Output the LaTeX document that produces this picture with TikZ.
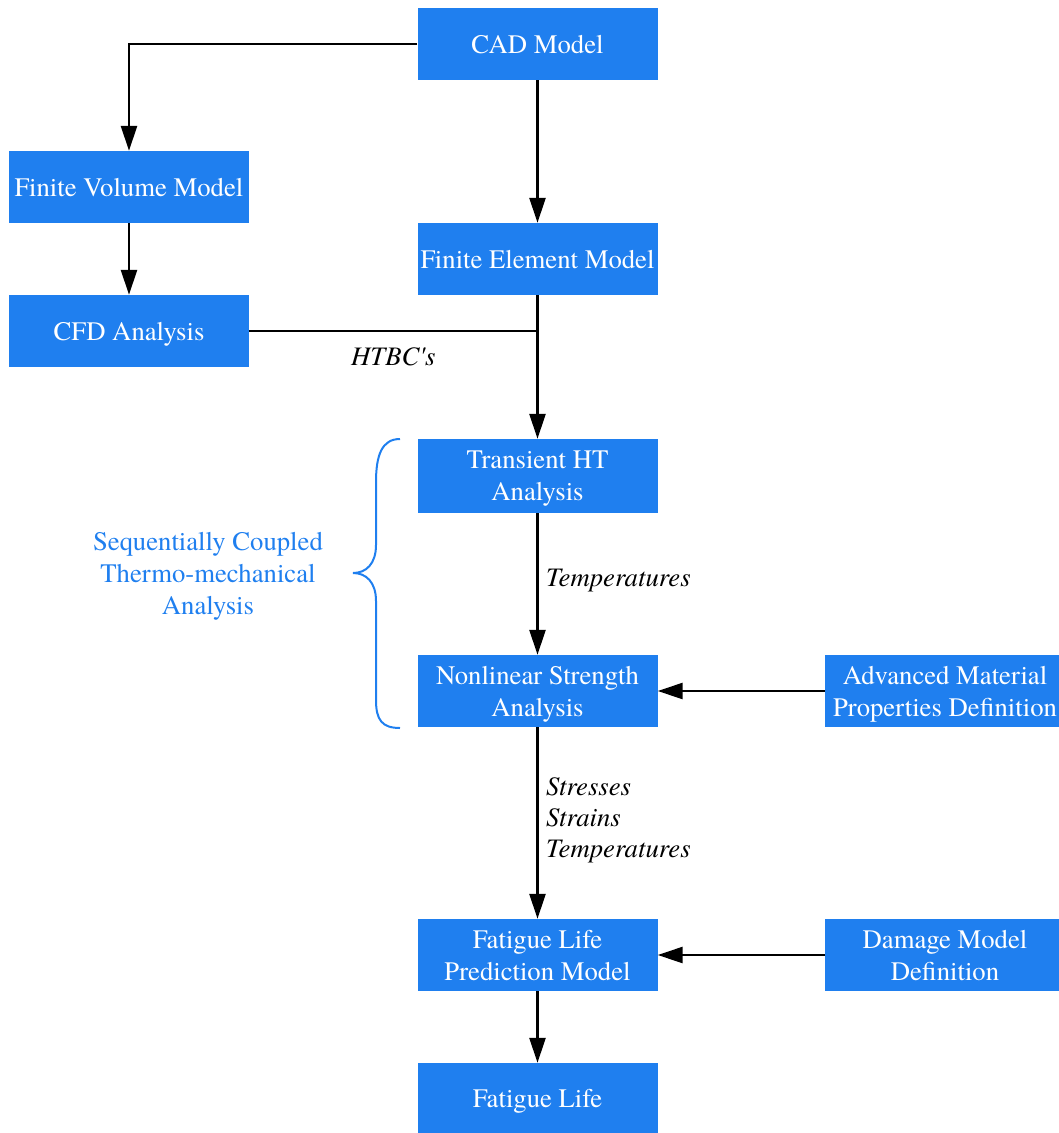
\documentclass[tikz,border=0pt]{standalone}
\usepackage{fontspec}
\setmainfont{texgyretermes}[Extension=.otf, UprightFont=*-regular, ItalicFont=*-italic, BoldFont=*-bold, BoldItalicFont=*-bolditalic]
\usetikzlibrary{arrows.meta}
\definecolor{boxblue}{HTML}{1F7FEF}
\begin{document}
\begin{tikzpicture}[x=1pt,y=-1pt,
  every node/.style={font=\fontsize{26.7}{32}\selectfont},
  blk/.style={rectangle, fill=boxblue, text=white, align=center, inner sep=0pt, text depth=-1pt, minimum width=240pt, minimum height=72pt},
  conn/.style={line width=2.5pt, draw=black},
  arr/.style={conn, -{Triangle[length=25pt,width=16pt]}},
  lbl/.style={font=\fontsize{26.7}{31}\selectfont\itshape, align=left, inner sep=0pt}
]
\useasboundingbox (0,0) rectangle (1059,1133);
\node[blk] (cad) at (537.5,44) {CAD Model};
\node[blk] (fvm) at (129,187) {Finite Volume Model};
\node[blk] (fem) at (537.5,259) {Finite Element Model};
\node[blk] (cfd) at (129,331) {CFD Analysis};
\node[blk, minimum height=74pt] (tht) at (537.5,476) {Transient HT\\Analysis};
\node[blk] (nsa) at (537.5,691) {Nonlinear Strength\\Analysis};
\node[blk] (amp) at (945,691) {Advanced Material\\Properties Definition};
\node[blk] (flp) at (537.5,955) {Fatigue Life\\Prediction Model};
\node[blk] (dmd) at (945,955) {Damage Model\\Definition};
\node[blk, minimum height=70pt] (fl) at (537.5,1098) {Fatigue Life};

\draw[arr] (cad.west) -| (fvm.north);
\draw[arr] (cad.south) -- (fem.north);
\draw[arr] (fvm.south) -- (cfd.north);
\draw[arr] (fem.south) -- (tht.north);
\coordinate (join) at (fem.south |- cfd.east);
\draw[conn] (cfd.east) -- (join);
\node[lbl, anchor=base west] (htbc) at (351,365) {HTBC\textquotesingle s};
\draw[arr] (tht.south) -- (nsa.north);
\node[lbl, anchor=base west] (temp) at (546,586) {Temperatures};
\draw[arr] (nsa.south) -- (flp.north);
\node[lbl, anchor=base west] (s1) at (546,795) {Stresses};
\node[lbl, anchor=base west] (s2) at (546,826) {Strains};
\node[lbl, anchor=base west] (s3) at (546,857) {Temperatures};
\draw[arr] (amp.west) -- (nsa.east);
\draw[arr] (dmd.west) -- (flp.east);
\draw[arr] (flp.south) -- (fl.north);

\draw[boxblue, line width=2pt] (400,439) .. controls (382,439) and (376,455) .. (376,482) -- (376,545) .. controls (376,564) and (366,573) .. (353,573) .. controls (366,573) and (376,582) .. (376,601) -- (376,700) .. controls (376,720) and (382,728) .. (400,728);
\node[text=boxblue, align=center, inner sep=0pt, text depth=-1pt] (seq) at (208,573) {Sequentially Coupled\\Thermo-mechanical\\Analysis};
\end{tikzpicture}
\end{document}
